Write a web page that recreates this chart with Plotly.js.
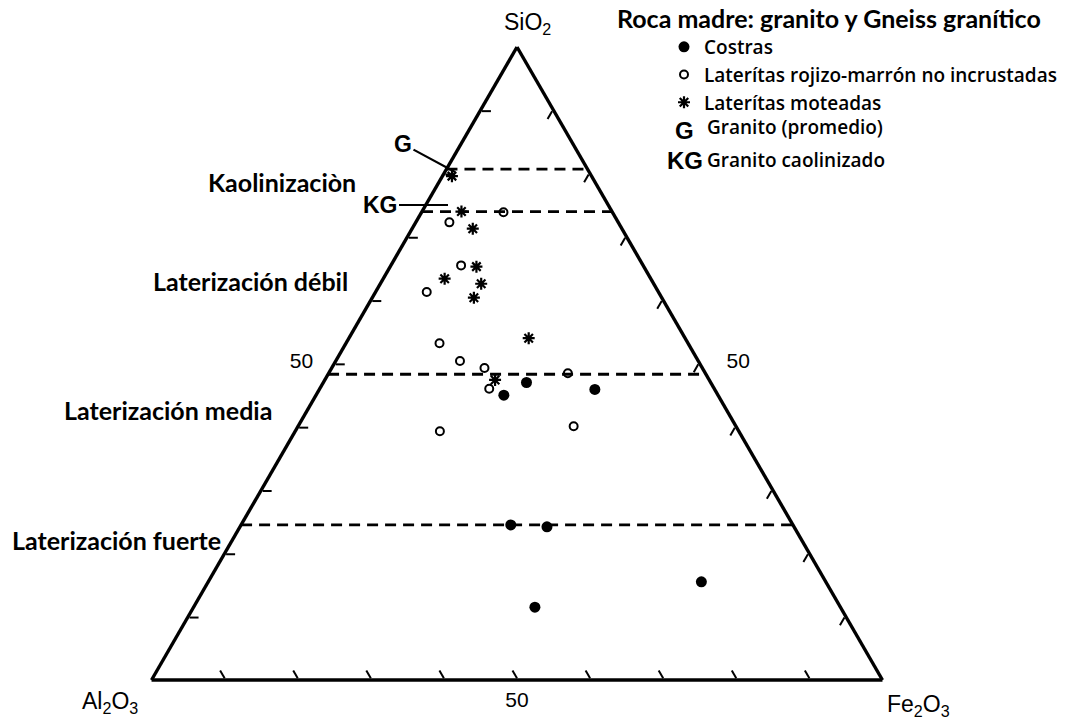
<!DOCTYPE html>
<html>
<head>
<meta charset="utf-8">
<script src="https://cdn.plot.ly/plotly-3.0.1.min.js"></script>
<style>html,body{margin:0;padding:0;background:#fff;}#chart{width:1090px;height:721px;}</style>
</head>
<body>
<div id="chart"></div>
<script>
// ---- Data (percent: SiO2, Al2O3, Fe2O3) ----
const costrasSiO2  = [45.0, 47.0, 45.9, 24.5, 24.2, 15.5, 11.5];
const costrasAl2O3 = [29.3, 25.2, 16.4, 38.6, 33.8, 17.0, 41.8];
const costrasFe2O3 = [25.7, 27.8, 37.7, 36.9, 42.0, 67.4, 46.7];

const rojizoSiO2  = [73.9, 72.3, 65.5, 61.3, 53.2, 50.4, 49.3, 48.4, 46.0, 39.3, 40.1];
const rojizoAl2O3 = [14.9, 23.1, 24.9, 31.7, 34.0, 32.6, 29.8, 18.8, 30.8, 40.9, 22.2];
const rojizoFe2O3 = [11.2,  4.6,  9.6,  7.0, 12.8, 17.0, 20.9, 32.7, 23.2, 19.8, 37.7];

const moteadasSiO2  = [79.6, 74.0, 71.3, 65.3, 63.4, 62.6, 60.4, 54.0, 47.4];
const moteadasAl2O3 = [19.1, 20.6, 20.4, 22.9, 28.2, 23.6, 25.7, 21.4, 29.3];
const moteadasFe2O3 = [ 1.3,  5.4,  8.3, 11.8,  8.4, 13.8, 13.9, 24.6, 23.3];

// SiO2 levels of the dashed boundary lines
const boundarySiO2 = [80.7, 74.0, 48.3, 24.5];

const seriesNames = ['Costras', 'Laterítas rojizo-marrón no incrustadas', 'Laterítas moteadas'];
const cornerLabels = ['SiO<sub>2</sub>', 'Al<sub>2</sub>O<sub>3</sub>', 'Fe<sub>2</sub>O<sub>3</sub>'];
const axisTickVals = [10, 20, 30, 40, 50, 60, 70, 80, 90];

const zoneLabels = ['Kaolinizaciòn', 'Laterización débil', 'Laterización media', 'Laterización fuerte'];
const legendTitle = 'Roca madre: granito y Gneiss granítico';
const extraLegendSymbols = ['G', 'KG'];
const extraLegendTexts = ['Granito (promedio)', 'Granito caolinizado'];

// ---- Traces ----
const traces = [];
boundarySiO2.forEach(function (s) {
  traces.push({
    type: 'scatterternary', mode: 'lines',
    a: [s, s], b: [100 - s, 0], c: [0, 100 - s],
    line: {color: '#000', width: 2.8, dash: '11px,7px'},
    showlegend: false, hoverinfo: 'skip'
  });
});
traces.push({
  type: 'scatterternary', mode: 'markers', name: seriesNames[0],
  a: costrasSiO2, b: costrasAl2O3, c: costrasFe2O3,
  marker: {symbol: 'circle', size: 11, color: '#000'}
});
traces.push({
  type: 'scatterternary', mode: 'markers', name: seriesNames[1],
  a: rojizoSiO2, b: rojizoAl2O3, c: rojizoFe2O3,
  marker: {symbol: 'circle-open', size: 8, color: '#000', line: {width: 2, color: '#000'}}
});
traces.push({
  type: 'scatterternary', mode: 'markers', name: seriesNames[2],
  a: moteadasSiO2, b: moteadasAl2O3, c: moteadasFe2O3,
  marker: {symbol: 'asterisk-open', size: 10, color: '#000', line: {width: 2.2, color: '#000'}}
});

const NB = '\u00a0';
function axis(tickLabel50) {
  return {
    title: {text: ''},
    linecolor: '#000', linewidth: 3.4, showgrid: false,
    ticks: 'inside', ticklen: 9, tickwidth: 2, tickcolor: '#000',
    tickmode: 'array', tickvals: axisTickVals,
    ticktext: axisTickVals.map(function (v) { return v === 50 ? tickLabel50 : ''; }),
    tickfont: {family: 'Liberation Sans, Arial, sans-serif', size: 21, color: '#000'}
  };
}

const W = 1090, H = 721;
function px(x) { return x / W; }
function py(y) { return 1 - y / H; }

const labelFont = {family: 'Lato, sans-serif', size: 25, color: '#000', weight: 'bold'};
const oxideFont = {family: 'Liberation Sans, Arial, sans-serif', size: 23, color: '#000'};
const legendFont = {family: 'Open Sans, sans-serif', size: 19, color: '#000', weight: 600};
const annotations = [
  {text: zoneLabels[0], x: px(282), y: py(182)},
  {text: zoneLabels[1], x: px(250), y: py(281)},
  {text: zoneLabels[2], x: px(168), y: py(410)},
  {text: zoneLabels[3], x: px(116), y: py(540)}
].map(function (a) {
  return Object.assign({xref: 'paper', yref: 'paper', showarrow: false, font: labelFont, xanchor: 'center', yanchor: 'middle'}, a);
});

// corner (axis) labels
[[cornerLabels[0], 527, 24], [cornerLabels[1], 110, 702], [cornerLabels[2], 918, 705]].forEach(function (c) {
  annotations.push({xref: 'paper', yref: 'paper', x: px(c[1]), y: py(c[2]), text: c[0], showarrow: false,
    xanchor: 'center', yanchor: 'middle', font: oxideFont});
});

// G / KG leader labels
annotations.push({xref: 'paper', yref: 'paper', x: px(455), y: py(172), text: 'G', showarrow: true,
  arrowhead: 0, arrowwidth: 2.2, arrowcolor: '#000', ax: -52, ay: -28,
  font: {family: 'Liberation Sans, Arial, sans-serif', size: 23, color: '#000', weight: 'bold'}});
annotations.push({xref: 'paper', yref: 'paper', x: px(448), y: py(205), text: 'KG', showarrow: true,
  arrowhead: 0, arrowwidth: 2.2, arrowcolor: '#000', ax: -68, ay: 0,
  font: {family: 'Liberation Sans, Arial, sans-serif', size: 23, color: '#000', weight: 'bold'}});

// legend title & extra legend rows
annotations.push({xref: 'paper', yref: 'paper', x: px(615), y: py(18), text: legendTitle, showarrow: false,
  xanchor: 'left', yanchor: 'middle', font: {family: 'Lato, sans-serif', size: 25, color: '#000', weight: 'bold'}});
annotations.push({xref: 'paper', yref: 'paper', x: px(684), y: py(130), text: extraLegendSymbols[0], showarrow: false,
  xanchor: 'center', yanchor: 'middle', font: {family: 'Liberation Sans, Arial, sans-serif', size: 24, color: '#000', weight: 'bold'}});
annotations.push({xref: 'paper', yref: 'paper', x: px(705), y: py(127), text: extraLegendTexts[0], showarrow: false,
  xanchor: 'left', yanchor: 'middle', font: legendFont});
annotations.push({xref: 'paper', yref: 'paper', x: px(685), y: py(160), text: extraLegendSymbols[1], showarrow: false,
  xanchor: 'center', yanchor: 'middle', font: {family: 'Liberation Sans, Arial, sans-serif', size: 24, color: '#000', weight: 'bold'}});
annotations.push({xref: 'paper', yref: 'paper', x: px(705), y: py(160), text: extraLegendTexts[1], showarrow: false,
  xanchor: 'left', yanchor: 'middle', font: legendFont});

const layout = {
  width: W, height: H,
  margin: {l: 0, r: 0, t: 0, b: 0},
  paper_bgcolor: '#fff',
  showlegend: true,
  legend: {x: px(664), y: py(28), xanchor: 'left', yanchor: 'top', bgcolor: 'rgba(0,0,0,0)',
    font: legendFont, tracegroupgap: 0},
  ternary: {
    domain: {x: [px(117), px(917)], y: [py(680), py(47)]},
    sum: 100,
    bgcolor: '#fff',
    aaxis: axis('50' + NB + NB + NB),
    baxis: axis('50'),
    caxis: axis(NB + NB + NB + NB + '50')
  },
  annotations: annotations
};

Plotly.newPlot('chart', traces, layout, {displayModeBar: false, staticPlot: true});
</script>
</body>
</html>
